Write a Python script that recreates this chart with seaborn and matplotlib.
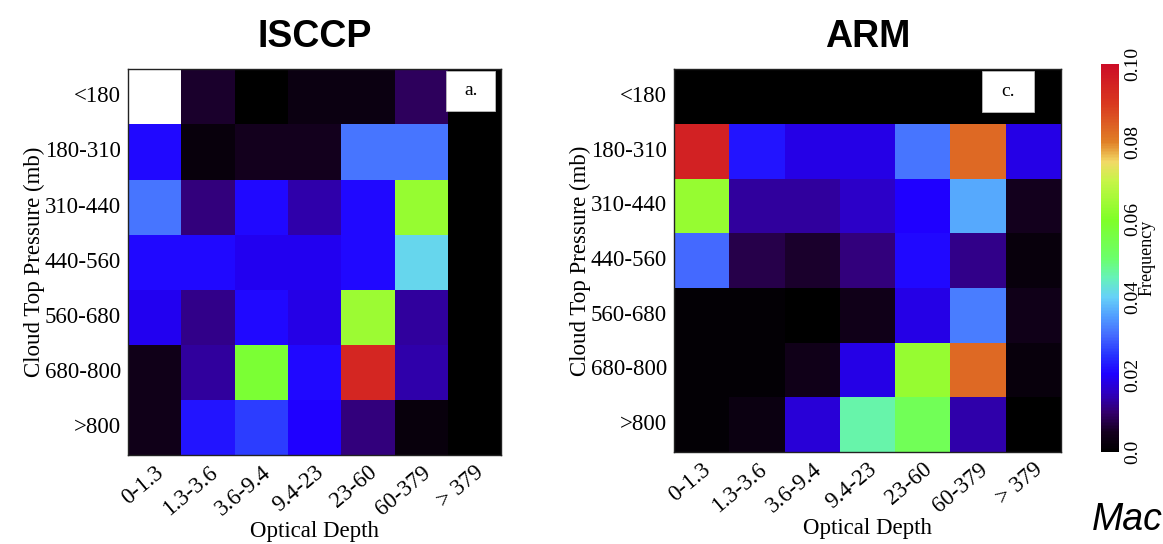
import numpy as np
import pandas as pd
import matplotlib
matplotlib.use("Agg")
import matplotlib.pyplot as plt
import seaborn as sns
from matplotlib.colors import LinearSegmentedColormap
from matplotlib.patches import Rectangle

sns.set_theme(style="white")
plt.rcParams['font.family'] = ['Liberation Serif', 'DejaVu Serif']
for k in ["text.color", "axes.labelcolor", "xtick.color", "ytick.color"]:
    plt.rcParams[k] = "black"

optical_depth = ["0-1.3", "1.3-3.6", "3.6-9.4", "9.4-23", "23-60", "60-379", "> 379"]
pressure = ["<180", "180-310", "310-440", "440-560", "560-680", "680-800", ">800"]

isccp_vals = [
    [0.120, 0.006, 0.000, 0.003, 0.003, 0.009, 0.000],
    [0.021, 0.002, 0.005, 0.005, 0.031, 0.031, 0.000],
    [0.031, 0.011, 0.021, 0.014, 0.021, 0.063, 0.000],
    [0.021, 0.021, 0.019, 0.019, 0.021, 0.041, 0.000],
    [0.019, 0.012, 0.021, 0.018, 0.064, 0.013, 0.000],
    [0.004, 0.013, 0.058, 0.021, 0.094, 0.014, 0.000],
    [0.004, 0.022, 0.026, 0.020, 0.011, 0.002, 0.000],
]

arm_vals = [
    [0.000, 0.000, 0.000, 0.000, 0.000, 0.000, 0.000],
    [0.095, 0.022, 0.018, 0.018, 0.031, 0.083, 0.018],
    [0.063, 0.013, 0.013, 0.016, 0.020, 0.036, 0.005],
    [0.030, 0.008, 0.006, 0.011, 0.021, 0.012, 0.002],
    [0.001, 0.001, 0.000, 0.004, 0.018, 0.032, 0.004],
    [0.001, 0.001, 0.004, 0.018, 0.063, 0.083, 0.002],
    [0.001, 0.003, 0.017, 0.046, 0.053, 0.014, 0.000],
]

cbar_ticks = [0.0, 0.02, 0.04, 0.06, 0.08, 0.10]
cbar_ticklabels = ["0.0", "0.02", "0.04", "0.06", "0.08", "0.10"]

cmap = LinearSegmentedColormap.from_list("freq", [
    (0.00, (0.00, 0.00, 0.00)),
    (0.05, (0.08, 0.00, 0.12)),
    (0.10, (0.20, 0.00, 0.42)),
    (0.15, (0.18, 0.00, 0.75)),
    (0.20, (0.12, 0.00, 1.00)),
    (0.25, (0.15, 0.20, 1.00)),
    (0.30, (0.27, 0.42, 1.00)),
    (0.35, (0.32, 0.62, 1.00)),
    (0.40, (0.40, 0.82, 0.97)),
    (0.45, (0.40, 0.95, 0.72)),
    (0.50, (0.42, 1.00, 0.42)),
    (0.60, (0.50, 1.00, 0.15)),
    (0.70, (0.78, 0.96, 0.28)),
    (0.75, (0.95, 0.85, 0.40)),
    (0.80, (0.88, 0.50, 0.15)),
    (0.90, (0.85, 0.22, 0.12)),
    (1.00, (0.80, 0.05, 0.15)),
])
cmap.set_over("white")

fig = plt.figure(figsize=(11.63, 5.44), dpi=100)
ax1 = fig.add_axes([0.110, 0.1636, 0.321, 0.709])
ax2 = fig.add_axes([0.5795, 0.169, 0.3328, 0.704])
cax = fig.add_axes([0.9467, 0.169, 0.0155, 0.713])

df1 = pd.DataFrame(isccp_vals, index=pressure, columns=optical_depth)
df2 = pd.DataFrame(arm_vals, index=pressure, columns=optical_depth)

sns.heatmap(df1, ax=ax1, cmap=cmap, vmin=0, vmax=0.1, cbar=False)
sns.heatmap(df2, ax=ax2, cmap=cmap, vmin=0, vmax=0.1, cbar=True, cbar_ax=cax,
            cbar_kws={"ticks": cbar_ticks})

panels = [(ax1, "ISCCP", "a.", 0.853, 0.131, 0.104),
          (ax2, "ARM", "c.", 0.797, 0.132, 0.107)]
for ax, title, tag, bx, bw, bh in panels:
    for s in ax.spines.values():
        s.set_visible(True)
        s.set_color("#222222")
        s.set_linewidth(1.0)
    ax.set_xticklabels(optical_depth, rotation=40, ha="right", rotation_mode="anchor",
                       fontsize=16.5)
    ax.set_yticklabels(pressure, rotation=0, fontsize=16.5)
    ax.tick_params(axis="both", length=0, pad=5)
    ax.set_xlabel("Optical Depth", fontsize=16.5, labelpad=1)
    ax.set_ylabel("Cloud Top Pressure (mb)", fontsize=16.5, labelpad=0)
    ax.set_title(title, fontsize=27, fontweight="bold", family="Liberation Sans", pad=16)
    ax.add_patch(Rectangle((bx, 1 - bh - 0.004), bw, bh, transform=ax.transAxes,
                           facecolor="white", edgecolor="#bbbbbb", lw=0.6, zorder=5))
    ax.text(bx + bw / 2, 1 - bh / 2 - 0.004, tag, transform=ax.transAxes,
            ha="center", va="center", fontsize=14, zorder=6)

cax.tick_params(length=0, labelsize=14, pad=4)
cax.set_yticklabels(cbar_ticklabels, rotation=90, va="center")
cax.set_ylabel("Frequency", fontsize=13, rotation=90, labelpad=-2)
cax.yaxis.set_label_position("right")
for s in cax.spines.values():
    s.set_visible(False)

fig.text(0.9385, 0.045, "Mace", fontsize=27, style="italic",
         family=["Liberation Sans Narrow", "Liberation Sans"],
         ha="left", va="center")

fig.savefig("out.png", dpi=100)
